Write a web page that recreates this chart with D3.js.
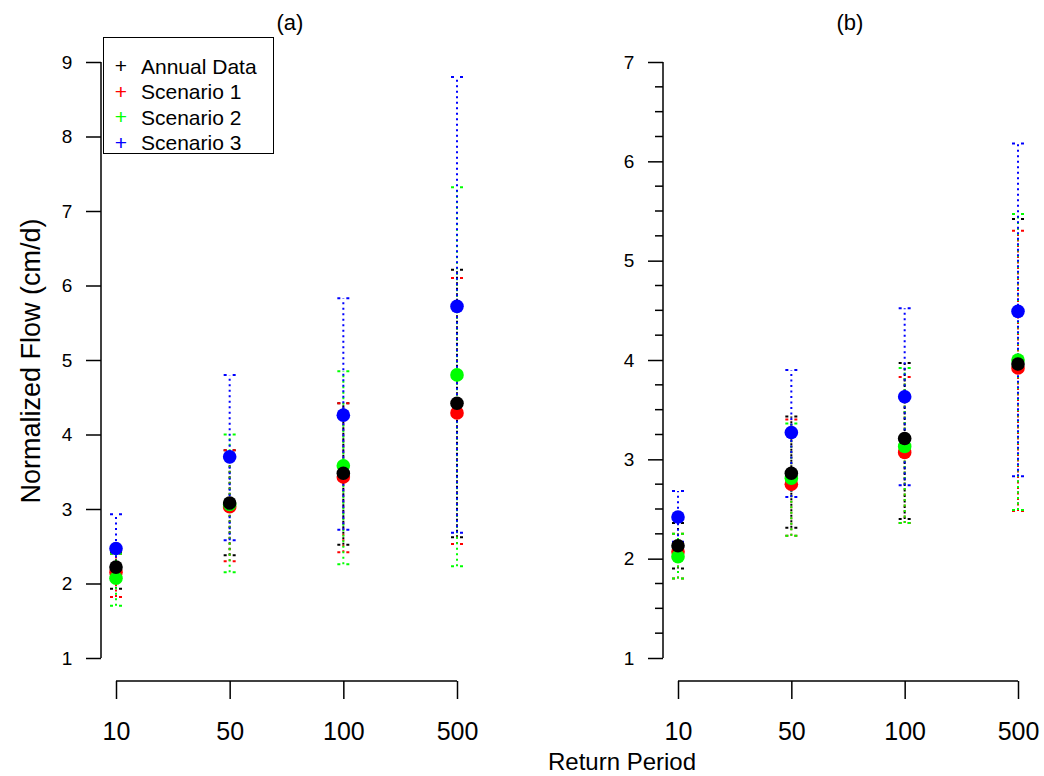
<!DOCTYPE html>
<html>
<head>
<meta charset="utf-8">
<script src="https://cdn.jsdelivr.net/npm/d3@7"></script>
<style>
  html, body { margin: 0; padding: 0; background: #fff; }
  svg text { font-family: "Liberation Sans", Arial, sans-serif; fill: #000; }
</style>
</head>
<body>
<svg id="chart" width="1044" height="776"></svg>
<script>
// ---- Data ----
const categories = ["10", "50", "100", "500"];
const seriesNames = ["Annual Data", "Scenario 1", "Scenario 2", "Scenario 3"];
const seriesColors = ["#000000", "#ff0000", "#00ff00", "#0000ff"];

// Panel (a)
const annualA = [2.22, 3.08, 3.48, 4.42];
const annualALow = [1.93, 2.38, 2.52, 2.62];
const annualAHigh = [2.42, 3.79, 4.42, 6.21];
const scen1A = [2.15, 3.03, 3.43, 4.29];
const scen1ALow = [1.82, 2.30, 2.42, 2.53];
const scen1AHigh = [2.40, 3.79, 4.42, 6.10];
const scen2A = [2.07, 3.06, 3.58, 4.80];
const scen2ALow = [1.70, 2.15, 2.26, 2.23];
const scen2AHigh = [2.40, 4.00, 4.85, 7.32];
const scen3A = [2.47, 3.70, 4.26, 5.72];
const scen3ALow = [2.20, 2.58, 2.72, 2.68];
const scen3AHigh = [2.93, 4.80, 5.83, 8.80];

// Panel (b)
const annualB = [2.13, 2.86, 3.21, 3.96];
const annualBLow = [1.90, 2.31, 2.40, 2.49];
const annualBHigh = [2.36, 3.43, 3.97, 5.42];
const scen1B = [2.07, 2.75, 3.07, 3.92];
const scen1BLow = [1.80, 2.23, 2.36, 2.48];
const scen1BHigh = [2.25, 3.40, 3.83, 5.30];
const scen2B = [2.02, 2.81, 3.13, 4.00];
const scen2BLow = [1.80, 2.23, 2.36, 2.49];
const scen2BHigh = [2.25, 3.36, 3.92, 5.47];
const scen3B = [2.42, 3.27, 3.63, 4.49];
const scen3BLow = [2.17, 2.62, 2.74, 2.83];
const scen3BHigh = [2.68, 3.90, 4.52, 6.18];

const yTicksA = [1, 2, 3, 4, 5, 6, 7, 8, 9];
const yTicksB = [1, 2, 3, 4, 5, 6, 7];
const yMinorB = d3.range(1, 7.001, 0.25);

const panels = [
  { title: "(a)", ticks: yTicksA, minor: null, domain: [1, 9], xRange: [116, 457], axisX: 101,
    series: [
      { name: seriesNames[0], color: seriesColors[0], v: annualA, lo: annualALow, hi: annualAHigh },
      { name: seriesNames[1], color: seriesColors[1], v: scen1A, lo: scen1ALow, hi: scen1AHigh },
      { name: seriesNames[2], color: seriesColors[2], v: scen2A, lo: scen2ALow, hi: scen2AHigh },
      { name: seriesNames[3], color: seriesColors[3], v: scen3A, lo: scen3ALow, hi: scen3AHigh }
    ] },
  { title: "(b)", ticks: yTicksB, minor: yMinorB, domain: [1, 7], xRange: [678, 1018], axisX: 663,
    series: [
      { name: seriesNames[0], color: seriesColors[0], v: annualB, lo: annualBLow, hi: annualBHigh },
      { name: seriesNames[1], color: seriesColors[1], v: scen1B, lo: scen1BLow, hi: scen1BHigh },
      { name: seriesNames[2], color: seriesColors[2], v: scen2B, lo: scen2BLow, hi: scen2BHigh },
      { name: seriesNames[3], color: seriesColors[3], v: scen3B, lo: scen3BLow, hi: scen3BHigh }
    ] }
];

const svg = d3.select("#chart");
const yTop = 62, yBot = 658, xAxisY = 681;

panels.forEach(p => {
  const x = d3.scalePoint().domain(categories).range(p.xRange);
  const y = d3.scaleLinear().domain(p.domain).range([yBot, yTop]);
  const g = svg.append("g");

  // Y axis
  const yAxis = d3.axisLeft(y).tickValues(p.ticks).tickSize(15).tickPadding(16).tickFormat(d3.format("d"));
  const ya = g.append("g").attr("transform", `translate(${p.axisX},0)`).call(yAxis);
  ya.attr("font-family", null).attr("font-size", null);
  ya.select(".domain").attr("d", `M0,${y(p.domain[0])}V${y(p.domain[1])}`);
  if (p.minor) {
    ya.selectAll(".minor").data(p.minor.filter(v => !p.ticks.includes(v))).enter()
      .append("line").attr("class", "minor")
      .attr("x1", -8).attr("x2", 0).attr("y1", d => y(d)).attr("y2", d => y(d));
  }
  ya.selectAll("path, line").attr("stroke", "#000").attr("stroke-width", 1.5);
  ya.selectAll("text").style("font-size", "19px").attr("text-anchor", "middle").attr("x", -34);

  // X axis
  const xAxis = d3.axisBottom(x).tickSize(18).tickPadding(23);
  const xa = g.append("g").attr("transform", `translate(0,${xAxisY})`).call(xAxis);
  xa.attr("font-family", null).attr("font-size", null);
  xa.select(".domain").attr("d", `M${p.xRange[0]},0H${p.xRange[1]}`);
  xa.selectAll("path, line").attr("stroke", "#000").attr("stroke-width", 1.5);
  xa.selectAll("text").style("font-size", "25px");

  // Title
  g.append("text").attr("x", p.title === "(a)" ? 290 : 850)
    .attr("y", 30).attr("text-anchor", "middle").style("font-size", "22px").text(p.title);

  // Error bars
  const dash = "2,3.5";
  p.series.forEach(s => {
    const eb = g.append("g");
    categories.forEach((c, i) => {
      const cx = x(c);
      eb.append("line").attr("x1", cx).attr("x2", cx).attr("y1", y(s.lo[i])).attr("y2", y(s.hi[i]))
        .attr("stroke", s.color).attr("stroke-width", 2).attr("stroke-dasharray", dash);
      [s.lo[i], s.hi[i]].forEach(v => {
        eb.append("line").attr("x1", cx - 6).attr("x2", cx + 6).attr("y1", y(v)).attr("y2", y(v))
          .attr("stroke", s.color).attr("stroke-width", 2).attr("stroke-dasharray", "3,6");
      });
    });
  });

  // Points: order red, green, blue, black
  [1, 2, 3, 0].forEach(k => {
    const s = p.series[k];
    g.selectAll(null).data(categories).enter().append("circle")
      .attr("cx", c => x(c)).attr("cy", (c, i) => y(s.v[i])).attr("r", 6.8)
      .attr("fill", s.color);
  });
});

// Axis titles
svg.append("text").attr("transform", "translate(40,361) rotate(-90)").attr("text-anchor", "middle")
  .style("font-size", "27px").text("Normalized Flow (cm/d)");
svg.append("text").attr("x", 622).attr("y", 770).attr("text-anchor", "middle")
  .style("font-size", "24px").text("Return Period");

// Legend
const lg = svg.append("g");
lg.append("rect").attr("x", 103.5).attr("y", 37.5).attr("width", 170).attr("height", 116)
  .attr("fill", "#fff").attr("stroke", "#000").attr("stroke-width", 1);
seriesNames.forEach((n, i) => {
  const yy = 66 + i * 25.5;
  lg.append("text").attr("x", 121).attr("y", yy + 7).attr("text-anchor", "middle")
    .style("font-size", "21px").style("fill", seriesColors[i]).text("+");
  lg.append("text").attr("x", 141).attr("y", yy + 7.5).style("font-size", "21px").text(n);
});
</script>
</body>
</html>
